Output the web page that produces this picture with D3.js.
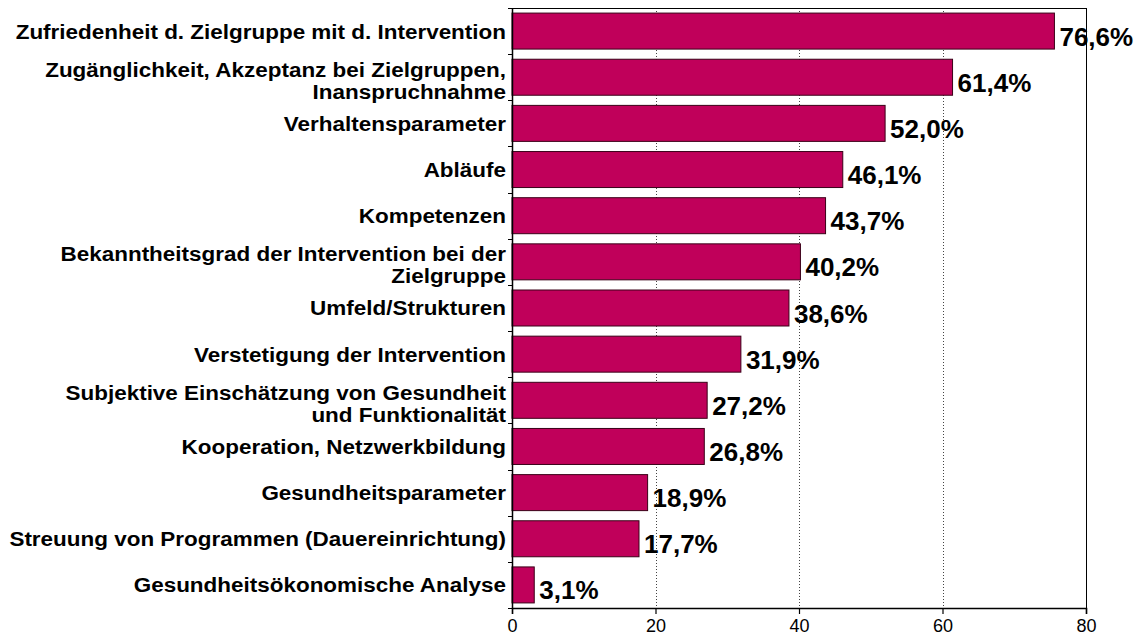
<!DOCTYPE html>
<html>
<head>
<meta charset="utf-8">
<script src="https://cdn.jsdelivr.net/npm/d3@7"></script>
<style>
  html, body { margin: 0; padding: 0; background: #fff; }
  svg { display: block; font-family: "Liberation Sans", Arial, sans-serif; }
</style>
</head>
<body>
<svg id="chart" width="1143" height="635"></svg>
<script>
const categories = [
  ["Zufriedenheit d. Zielgruppe mit d. Intervention"],
  ["Zugänglichkeit, Akzeptanz bei Zielgruppen,", "Inanspruchnahme"],
  ["Verhaltensparameter"],
  ["Abläufe"],
  ["Kompetenzen"],
  ["Bekanntheitsgrad der Intervention bei der", "Zielgruppe"],
  ["Umfeld/Strukturen"],
  ["Verstetigung der Intervention"],
  ["Subjektive Einschätzung von Gesundheit", "und Funktionalität"],
  ["Kooperation, Netzwerkbildung"],
  ["Gesundheitsparameter"],
  ["Streuung von Programmen (Dauereinrichtung)"],
  ["Gesundheitsökonomische Analyse"]
];
// bar lengths
const values = [75.6, 61.4, 52.0, 46.1, 43.7, 40.2, 38.6, 31.9, 27.2, 26.8, 18.9, 17.7, 3.1];
const valueLabels = ["76,6%", "61,4%", "52,0%", "46,1%", "43,7%", "40,2%", "38,6%", "31,9%", "27,2%", "26,8%", "18,9%", "17,7%", "3,1%"];
const xTicks = [0, 20, 40, 60, 80];

(function () {
const svg = d3.select("#chart");
const pL = 512, pR = 1086, pT = 8, pB = 608;

const x = d3.scaleLinear().domain([0, 80]).range([pL, pR]);
const y = d3.scaleBand().domain(d3.range(values.length)).range([pT, pB])
  .paddingInner(0.22).paddingOuter(0.11);
const step = (pB - pT) / values.length;

// gridlines
svg.append("g").selectAll("line").data(xTicks.filter(d => d > 0 && d < 80)).join("line")
  .attr("x1", d => Math.round(x(d)) + 0.5).attr("x2", d => Math.round(x(d)) + 0.5)
  .attr("y1", pT).attr("y2", pB)
  .attr("stroke", "#444").attr("stroke-width", 1).attr("stroke-dasharray", "1,2");

// bars
svg.append("g").selectAll("rect").data(values).join("rect")
  .attr("x", x(0))
  .attr("y", (d, i) => y(i))
  .attr("width", d => x(d) - x(0))
  .attr("height", y.bandwidth())
  .attr("fill", "#C0005A")
  .attr("stroke", "#3a0018").attr("stroke-width", 1);

// frame: top and right
svg.append("line").attr("x1", pL).attr("x2", pR + 0.5).attr("y1", pT + 0.5).attr("y2", pT + 0.5)
  .attr("stroke", "#000").attr("stroke-width", 1);
svg.append("line").attr("x1", pR + 0.5).attr("x2", pR + 0.5).attr("y1", pT).attr("y2", pB)
  .attr("stroke", "#000").attr("stroke-width", 1);

// left axis with ticks at band boundaries
const boundaries = d3.range(values.length + 1).map(i => pT + i * step);
svg.append("line").attr("x1", pL + 0.5).attr("x2", pL + 0.5).attr("y1", pT).attr("y2", pB)
  .attr("stroke", "#000").attr("stroke-width", 1.5);
svg.append("g").selectAll("line").data(boundaries).join("line")
  .attr("x1", pL - 4).attr("x2", pL)
  .attr("y1", d => Math.round(d) + 0.5).attr("y2", d => Math.round(d) + 0.5)
  .attr("stroke", "#000").attr("stroke-width", 1);

// bottom axis
const xAxis = d3.axisBottom(x).tickValues(xTicks).tickSize(6).tickFormat(d3.format("d"));
const gx = svg.append("g").attr("transform", `translate(0,${pB})`).call(xAxis);
gx.select(".domain").attr("stroke", "#000").attr("stroke-width", 1.5);
gx.selectAll(".tick line").attr("stroke", "#000").attr("stroke-width", 1.2);
gx.selectAll(".tick text").attr("font-size", "18px").attr("fill", "#000")
  .attr("font-family", "Liberation Sans, Arial, sans-serif").attr("dy", "0").attr("y", 24);

// category labels
const labG = svg.append("g");
categories.forEach((lines, i) => {
  const c = y(i) + y.bandwidth() / 2;
  const n = lines.length;
  const t = labG.append("text")
    .attr("transform", "translate(506,0) scale(1.07,1)")
    .attr("text-anchor", "end")
    .attr("font-size", "21px").attr("font-weight", "bold").attr("fill", "#000");
  lines.forEach((ln, j) => {
    t.append("tspan").attr("x", 0)
      .attr("y", c + 7.5 - (n - 1) * 8 + j * 22)
      .text(ln);
  });
});

// value labels
svg.append("g").selectAll("text").data(values).join("text")
  .attr("x", d => x(d) + 5)
  .attr("y", (d, i) => y(i) + y.bandwidth() / 2 + 14.5)
  .attr("font-size", "26px").attr("font-weight", "bold").attr("fill", "#000")
  .text((d, i) => valueLabels[i]);
})();
</script>
</body>
</html>
